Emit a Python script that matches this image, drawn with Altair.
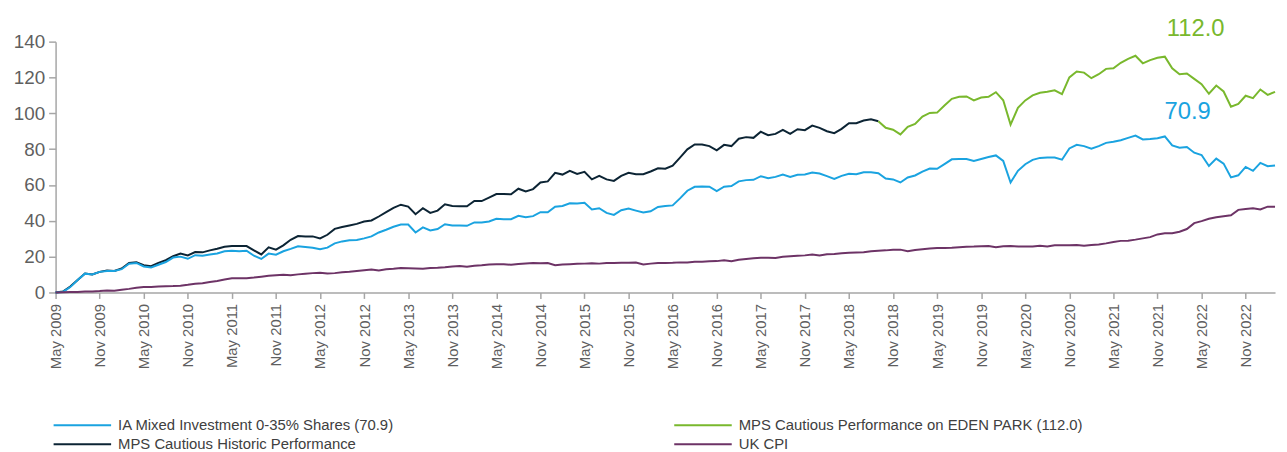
import json
import altair as alt
import pandas as pd

# ---- categories ----
IA = "IA Mixed Investment 0-35% Shares (70.9)"
EDEN = "MPS Cautious Performance on EDEN PARK (112.0)"
HIST = "MPS Cautious Historic Performance"
CPI = "UK CPI"
SERIES = [IA, EDEN, HIST, CPI]
COLORS = ["#1aa3e0", "#79b82d", "#0c2434", "#6d3366"]

# month index 0 = May 2009 ... 166 = Mar 2023
TICK_LABELS = []
for yr in range(2009, 2023):
    TICK_LABELS += [f"May {yr}", f"Nov {yr}"]

# ---- series values (cumulative % since May 2009) ----
hist_vals = [
    0, 0.5, 3.3, 7, 10.6, 10, 11.5, 12.3, 12, 13.4, 16.5, 16.9,
    15.2, 14.7, 16.5, 18, 20.2, 21.7, 20.7, 22.6, 22.4, 23.5, 24.4, 25.5,
    25.9, 25.9, 25.9, 23.5, 21.2, 25.2, 23.9, 26.3, 29.4, 31.5, 31.3, 31.3,
    30.2, 32.2, 35.5, 36.5, 37.4, 38.3, 39.6, 40.2, 42.4, 44.8, 47.2, 49,
    47.9, 43.7, 47, 44.4, 45.7, 49.2, 48.3, 48.1, 48.1, 51.1, 51, 52.9,
    54.9, 54.9, 54.8, 57.9, 56.4, 57.7, 61.4, 62, 66.8, 65.8, 67.9, 66.2,
    67.3, 63.1, 65.1, 63.1, 62.3, 65.1, 66.8, 66, 66, 67.5, 69.3, 69.1,
    70.8, 75.3, 79.9, 82.6, 82.6, 81.7, 79.3, 82.4, 81.7, 85.8, 86.7, 86.3,
    89.7, 87.8, 88.5, 90.8, 88.5, 91.1, 90.6, 93.1, 91.9, 90, 88.9, 91.3,
    94.5, 94.5, 96, 96.7, 95.6,
]
ia_vals = [
    0, 0.3, 3, 7, 10.5, 10, 11.5, 12, 12, 13, 16, 16.5,
    14.5, 14, 15.5, 17, 19.5, 20, 18.8, 20.8, 20.5, 21.2, 21.8, 23,
    23.3, 23, 23.3, 20.5, 18.7, 21.7, 21.1, 23, 24.3, 25.8, 25.4, 25,
    24.1, 25, 27.4, 28.5, 29.1, 29.3, 30.2, 31.3, 33.5, 35, 36.7, 37.9,
    37.9, 33.5, 36.3, 34.6, 35.4, 38.1, 37.4, 37.4, 37.2, 39.1, 39.1, 39.6,
    41.1, 40.9, 40.9, 42.8, 42, 42.6, 44.8, 44.8, 47.9, 48.3, 49.8, 49.6,
    50, 46.3, 47, 44.4, 43.3, 45.9, 46.8, 45.7, 44.6, 45.3, 47.7, 48.3,
    48.6, 52.5, 56.8, 59, 59.2, 59, 56.6, 59, 59.4, 62, 62.7, 62.9,
    64.9, 63.8, 64.5, 65.8, 64.5, 65.7, 65.8, 66.9, 66.4, 64.9, 63.4, 65.1,
    66.2, 66, 67.1, 67.1, 66.6, 63.6, 63.1, 61.4, 64.2, 65.3, 67.5, 69.2,
    69, 71.6, 74.3, 74.5, 74.5, 73.4, 74.5, 75.6, 76.5, 73.4, 61.4, 67.9,
    71.6, 74, 75.1, 75.3, 75.3, 74.1, 80.4, 82.4, 81.7, 80.2, 81.7, 83.5,
    84.1, 85, 86.3, 87.6, 85.4, 85.7, 86.1, 87.1, 82.1, 80.8, 81.2, 78,
    76.7, 70.6, 74.7, 71.9, 64.2, 65.4, 70.1, 67.9, 72.3, 70.5, 70.9,
]
eden_start = 112  # Sep 2018
eden_vals = [
    95.6, 91.9, 90.8, 88.2, 92.4, 94.1, 98.2, 100.2, 100.4, 104.4, 108.1, 109.2,
    109.4, 107.2, 108.8, 109.2, 111.8, 107.3, 93.7, 103, 107.2, 110, 111.5, 112,
    112.8, 110.7, 120, 123.3, 122.7, 119.6, 121.8, 124.8, 125.1, 128.2, 130.4, 132.1,
    127.9, 129.7, 131, 131.6, 125.1, 121.8, 122.2, 119.2, 116.3, 110.9, 115.5, 112.2,
    103.7, 105.2, 109.8, 108.5, 113.3, 110.3, 112.0,
]
cpi_vals = [
    0, 0.1, 0.2, 0.3, 0.5, 0.6, 0.8, 1.1, 1.0, 1.5, 2.0, 2.6,
    3.0, 3.1, 3.3, 3.5, 3.6, 3.8, 4.3, 4.9, 5.1, 5.8, 6.4, 7.2,
    7.9, 8.0, 8.0, 8.3, 8.8, 9.3, 9.6, 9.9, 9.6, 10.1, 10.5, 10.8,
    11.0, 10.6, 10.8, 11.3, 11.6, 12.0, 12.4, 12.8, 12.3, 12.9, 13.2, 13.6,
    13.5, 13.4, 13.3, 13.6, 13.8, 14.1, 14.5, 14.8, 14.3, 14.9, 15.2, 15.6,
    15.8, 15.7, 15.5, 15.9, 16.2, 16.4, 16.3, 16.4, 15.2, 15.6, 15.8, 16.0,
    16.1, 16.3, 16.1, 16.4, 16.5, 16.6, 16.6, 16.7, 15.6, 16.1, 16.4, 16.5,
    16.6, 16.8, 16.7, 17.1, 17.2, 17.4, 17.5, 18.0, 17.4, 18.3, 18.7, 19.1,
    19.4, 19.4, 19.3, 19.9, 20.2, 20.5, 20.7, 21.2, 20.6, 21.3, 21.5, 21.9,
    22.2, 22.3, 22.4, 23.0, 23.3, 23.5, 23.8, 23.9, 23.0, 23.7, 24.1, 24.5,
    24.8, 24.8, 24.9, 25.2, 25.5, 25.6, 25.8, 25.9, 25.2, 25.8, 25.9, 25.7,
    25.6, 25.7, 26.1, 25.6, 26.3, 26.3, 26.3, 26.5, 26.1, 26.5, 26.8, 27.4,
    28.2, 28.8, 28.9, 29.5, 30.2, 30.9, 32.4, 33.0, 33.1, 33.9, 35.4, 38.7,
    39.8, 41.1, 42.0, 42.6, 43.1, 46.1, 46.6, 47.0, 46.3, 47.9, 47.9,
]

# end-value annotations
END_LABELS = ["112.0", "70.9"]
END_SERIES = [EDEN, IA]
END_M = [155.2, 154.1]
END_Y = [147, 100.5]

rows = []
for i, v in enumerate(hist_vals):
    rows.append({"m": i, "value": v, "series": HIST})
for i, v in enumerate(ia_vals):
    rows.append({"m": i, "value": v, "series": IA})
for i, v in enumerate(eden_vals):
    rows.append({"m": eden_start + i, "value": v, "series": EDEN})
for i, v in enumerate(cpi_vals):
    rows.append({"m": i, "value": v, "series": CPI})
df = pd.DataFrame(rows)
lab_df = pd.DataFrame({"m": END_M, "value": END_Y, "label": END_LABELS, "series": END_SERIES})

FONT = "Liberation Sans"
color_scale = alt.Scale(domain=SERIES, range=COLORS)
label_expr = json.dumps(TICK_LABELS) + "[round(datum.value/6)]"

x_scale = alt.Scale(domain=[0, 166], nice=False, zero=False)
y_scale = alt.Scale(domain=[0, 140], nice=False)

x_axis = alt.Axis(
    values=list(range(0, 163, 6)), labelExpr=label_expr, labelAngle=-90,
    labelFontSize=15, labelFont=FONT, labelColor="#5f5f5f", labelPadding=5,
    tickSize=6, grid=False, title=None, labelOverlap=False,
)
y_axis = alt.Axis(
    values=list(range(0, 141, 20)), labelFontSize=19, labelFont=FONT,
    labelColor="#5f5f5f", labelPadding=4, tickSize=7, grid=False, title=None,
    labelOverlap=False,
)

lines = alt.Chart(df).mark_line(strokeWidth=2).encode(
    x=alt.X("m:Q", scale=x_scale, axis=x_axis),
    y=alt.Y("value:Q", scale=y_scale, axis=y_axis),
    color=alt.Color(
        "series:N", scale=color_scale,
        sort=SERIES,
        legend=alt.Legend(
            title=None, orient="none", legendX=-3, legendY=379, columns=2,
            direction="horizontal", values=SERIES,
            columnPadding=281, rowPadding=3, symbolType="stroke", symbolSize=3364,
            symbolStrokeWidth=2, clipHeight=16, labelFont=FONT, labelFontSize=15,
            labelColor="#404040", labelOffset=6, padding=0, labelLimit=0,
        ),
    ),
)

texts = alt.Chart(lab_df).mark_text(fontSize=24, font=FONT, align="center", baseline="middle").encode(
    x=alt.X("m:Q", scale=x_scale, axis=x_axis),
    y=alt.Y("value:Q", scale=y_scale, axis=y_axis),
    text="label:N",
    color=alt.Color("series:N", scale=color_scale, legend=None),
)

chart = (
    alt.layer(lines, texts)
    .properties(width=1230, height=253, padding={"left": 5, "top": 7, "right": 0, "bottom": 0})
    .configure_view(stroke=None)
    .configure_axis(domainColor="#a6a6a6", tickColor="#a6a6a6", domainWidth=1.5, tickWidth=1.5)
)

chart.save("out.html", embed_options={"renderer": "svg", "actions": False})
